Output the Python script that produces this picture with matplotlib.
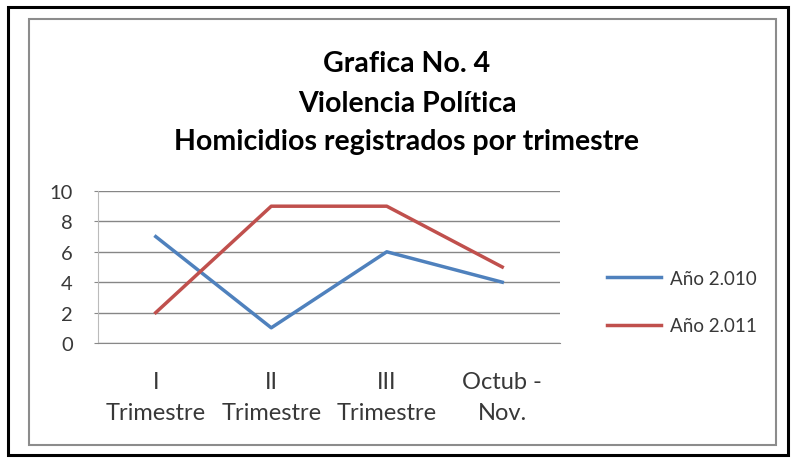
import matplotlib.pyplot as plt
from matplotlib.patches import Rectangle

plt.rcParams['font.family'] = ['Lato', 'DejaVu Sans']

categorias = ["I\nTrimestre", "II\nTrimestre", "III\nTrimestre", "Octub -\nNov."]
anio_2010 = [7, 1, 6, 4]
anio_2011 = [2, 9, 9, 5]
series = ["Año 2.010", "Año 2.011"]

W, H = 795, 464
fig = plt.figure(figsize=(W / 100, H / 100), dpi=100)

# marcos exterior e interior
fig.patches.append(Rectangle((8 / W, 1 - 456 / H), 780 / W, 448 / H, transform=fig.transFigure,
                             fill=False, edgecolor='black', lw=2.2))
fig.patches.append(Rectangle((29 / W, 1 - 446 / H), 747 / W, 426 / H, transform=fig.transFigure,
                             fill=False, edgecolor='#8c8c8c', lw=1.5))

ax = fig.add_axes([98 / W, 1 - 344 / H, 462 / W, 152 / H])
x = range(len(categorias))
ax.plot(x, anio_2010, color='#4F81BD', lw=2.5, label=series[0])
ax.plot(x, anio_2011, color='#C0504D', lw=2.5, label=series[1])

ax.set_xlim(-0.5, 3.5)
ax.set_ylim(0, 10)
ax.set_yticks(range(0, 11, 2))
ax.set_xticks(list(x))
ax.set_xticklabels(categorias, fontsize=17, color='#383838', linespacing=1.6)
ax.tick_params(axis='y', labelsize=14.5, colors='#383838', length=3, color='#888888', pad=15)
ax.tick_params(axis='x', length=0, pad=20)
ax.grid(axis='y', color='#868686', lw=1)
for s in ['top', 'right']:
    ax.spines[s].set_visible(False)
ax.spines['left'].set_color('#bbbbbb')
ax.spines['bottom'].set_color('#888888')
ax.set_axisbelow(True)

tx = 407 / W
fig.text(tx, 1 - 72 / H, "Grafica No. 4", ha='center', va='baseline', fontsize=20.5, fontweight='bold')
fig.text(tx, 1 - 112 / H, "Violencia Política", ha='center', va='baseline', fontsize=20.5, fontweight='bold')
fig.text(tx, 1 - 150 / H, "Homicidios registrados por trimestre", ha='center', va='baseline',
         fontsize=20.5, fontweight='bold')

fig.legend(loc='center left', bbox_to_anchor=(590 / W, 1 - 303 / H), frameon=False,
           fontsize=13.5, handlelength=2.9, labelspacing=1.65, handletextpad=0.45,
           labelcolor='#383838')

fig.savefig('out.png', dpi=100)
